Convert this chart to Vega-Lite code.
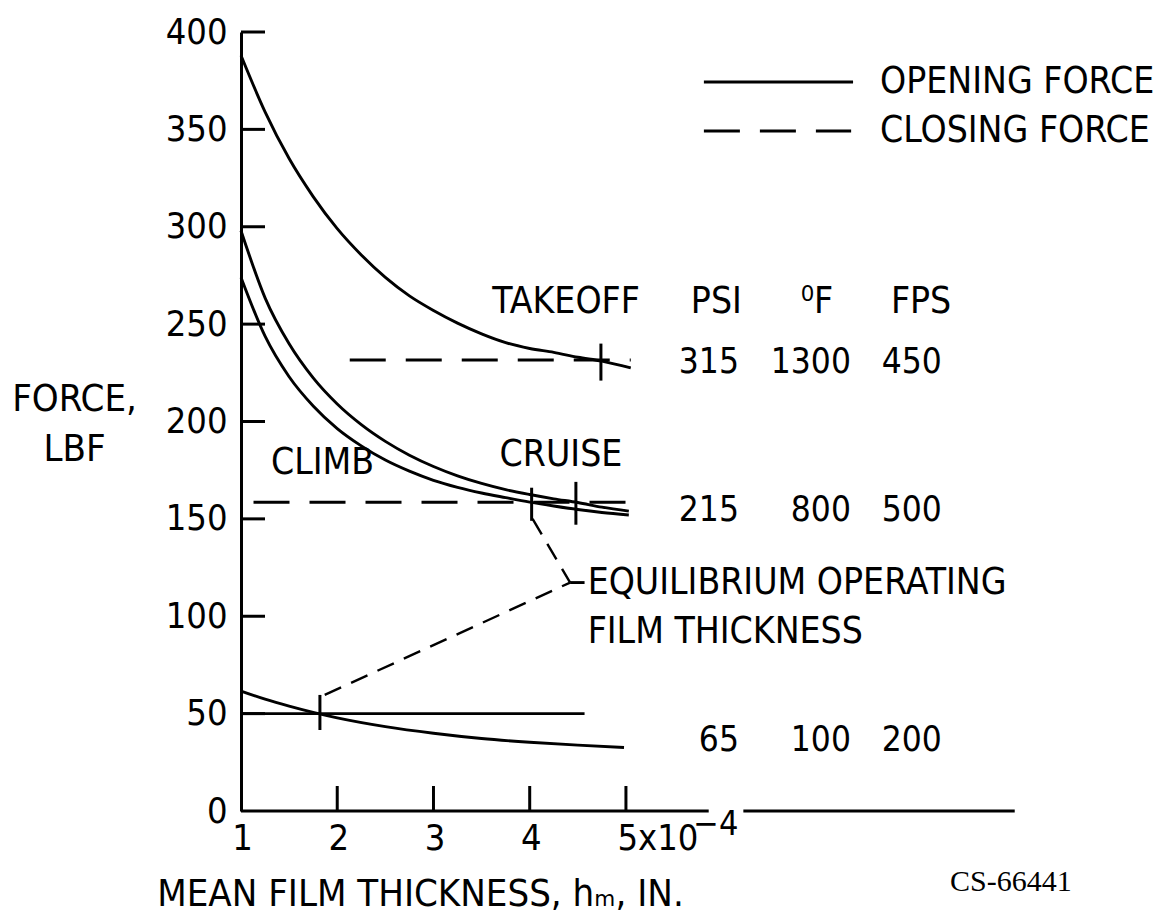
{
  "$schema": "https://vega.github.io/schema/vega-lite/v6.json",
  "width": 818,
  "height": 779,
  "autosize": "none",
  "padding": {"left": 241, "top": 32, "right": 104, "bottom": 112},
  "background": "white",
  "config": {
    "view": {"stroke": null},
    "font": "Liberation Sans Narrow, DejaVu Sans Condensed, sans-serif"
  },
  "datasets": {
    "solid": [
      {"id": "takeoff", "x": 1.0, "y": 388},
      {"id": "takeoff", "x": 1.25, "y": 359},
      {"id": "takeoff", "x": 1.5, "y": 335},
      {"id": "takeoff", "x": 1.75, "y": 315.5},
      {"id": "takeoff", "x": 2.0, "y": 299},
      {"id": "takeoff", "x": 2.25, "y": 285.5},
      {"id": "takeoff", "x": 2.5, "y": 274},
      {"id": "takeoff", "x": 2.75, "y": 264.5},
      {"id": "takeoff", "x": 3.0, "y": 257},
      {"id": "takeoff", "x": 3.25, "y": 250.5},
      {"id": "takeoff", "x": 3.5, "y": 245},
      {"id": "takeoff", "x": 3.75, "y": 240.5},
      {"id": "takeoff", "x": 4.0, "y": 237.5},
      {"id": "takeoff", "x": 4.25, "y": 235.5},
      {"id": "takeoff", "x": 4.5, "y": 233},
      {"id": "takeoff", "x": 4.75, "y": 231},
      {"id": "takeoff", "x": 5.05, "y": 227.5},
      {"id": "cruise", "x": 1.0, "y": 298},
      {"id": "cruise", "x": 1.25, "y": 263.5},
      {"id": "cruise", "x": 1.5, "y": 239.9},
      {"id": "cruise", "x": 1.75, "y": 222.4},
      {"id": "cruise", "x": 2.0, "y": 209},
      {"id": "cruise", "x": 2.25, "y": 198.4},
      {"id": "cruise", "x": 2.5, "y": 189.8},
      {"id": "cruise", "x": 2.75, "y": 182.7},
      {"id": "cruise", "x": 3.0, "y": 176.9},
      {"id": "cruise", "x": 3.25, "y": 172.1},
      {"id": "cruise", "x": 3.5, "y": 168.2},
      {"id": "cruise", "x": 3.75, "y": 165},
      {"id": "cruise", "x": 4.0, "y": 162.5},
      {"id": "cruise", "x": 4.25, "y": 160.3},
      {"id": "cruise", "x": 4.5, "y": 158.4},
      {"id": "cruise", "x": 4.75, "y": 156},
      {"id": "cruise", "x": 5.03, "y": 154},
      {"id": "climb", "x": 1.0, "y": 274},
      {"id": "climb", "x": 1.25, "y": 243.8},
      {"id": "climb", "x": 1.5, "y": 223},
      {"id": "climb", "x": 1.75, "y": 208},
      {"id": "climb", "x": 2.0, "y": 196.4},
      {"id": "climb", "x": 2.25, "y": 187.5},
      {"id": "climb", "x": 2.5, "y": 180.2},
      {"id": "climb", "x": 2.75, "y": 174.5},
      {"id": "climb", "x": 3.0, "y": 169.8},
      {"id": "climb", "x": 3.25, "y": 166.2},
      {"id": "climb", "x": 3.5, "y": 163.3},
      {"id": "climb", "x": 3.75, "y": 160.9},
      {"id": "climb", "x": 4.0, "y": 158.6},
      {"id": "climb", "x": 4.25, "y": 156.6},
      {"id": "climb", "x": 4.5, "y": 154.8},
      {"id": "climb", "x": 4.75, "y": 153.3},
      {"id": "climb", "x": 5.03, "y": 152},
      {"id": "idle", "x": 1.0, "y": 61.6},
      {"id": "idle", "x": 1.25, "y": 57.4},
      {"id": "idle", "x": 1.5, "y": 53.8},
      {"id": "idle", "x": 1.75, "y": 50.6},
      {"id": "idle", "x": 2.0, "y": 47.8},
      {"id": "idle", "x": 2.5, "y": 43.3},
      {"id": "idle", "x": 3.0, "y": 39.9},
      {"id": "idle", "x": 3.5, "y": 37.2},
      {"id": "idle", "x": 4.0, "y": 35.3},
      {"id": "idle", "x": 4.5, "y": 33.8},
      {"id": "idle", "x": 4.98, "y": 32.6},
      {"id": "idleClose", "x": 1.0, "y": 50},
      {"id": "idleClose", "x": 4.57, "y": 50},
      {"id": "leaderJoin", "x": 4.42, "y": 117.3},
      {"id": "leaderJoin", "x": 4.57, "y": 117.3},
      {"id": "legendSolid", "x": 5.81, "y": 374.3},
      {"id": "legendSolid", "x": 7.36, "y": 374.3}
    ],
    "dashed": [
      {"id": "takeoffClose", "x": 2.13, "y": 231.6},
      {"id": "takeoffClose", "x": 5.05, "y": 231.6},
      {"id": "cruiseClose", "x": 1.13, "y": 158.5},
      {"id": "cruiseClose", "x": 5.03, "y": 158.5},
      {"id": "legendDashed", "x": 5.81, "y": 349.2},
      {"id": "legendDashed", "x": 7.34, "y": 349.2}
    ],
    "leaders": [
      {"id": "lead1", "x": 4.03, "y": 150},
      {"id": "lead1", "x": 4.42, "y": 117.3},
      {"id": "lead2", "x": 1.87, "y": 59.6},
      {"id": "lead2", "x": 4.42, "y": 117.3}
    ],
    "eqTicks": [
      {"x": 4.74, "y": 221, "y2": 240},
      {"x": 4.02, "y": 149, "y2": 166},
      {"x": 4.48, "y": 147, "y2": 169},
      {"x": 1.82, "y": 41.6, "y2": 59.6}
    ],
    "yTicks": [
      {"v": 50}, {"v": 100}, {"v": 150}, {"v": 200},
      {"v": 250}, {"v": 300}, {"v": 350}, {"v": 400}
    ],
    "xTicks": [
      {"v": 2}, {"v": 3}, {"v": 4}, {"v": 5}
    ],
    "baseline": [
      {"x": 1, "x2": 5.86, "y": 0},
      {"x": 6.22, "x2": 9.04, "y": 0}
    ],
    "textLeft": [
      {"x": 7.64, "y": 374.3, "t": "OPENING FORCE"},
      {"x": 7.64, "y": 349.2, "t": "CLOSING FORCE"},
      {"x": 7.753, "y": 261.4, "t": "FPS"},
      {"x": 4.602, "y": 117.1, "t": "EQUILIBRIUM OPERATING"},
      {"x": 4.602, "y": 91.9, "t": "FILM THICKNESS"}
    ],
    "textRight": [
      {"x": 5.145, "y": 261.4, "t": "TAKEOFF"},
      {"x": 6.205, "y": 261.4, "t": "PSI"}
    ],
    "numbers": [
      {"x": 6.174, "y": 230.5, "t": "315"},
      {"x": 7.338, "y": 230.5, "t": "1300"},
      {"x": 8.283, "y": 230.5, "t": "450"},
      {"x": 6.174, "y": 154.6, "t": "215"},
      {"x": 7.338, "y": 154.6, "t": "800"},
      {"x": 8.283, "y": 154.6, "t": "500"},
      {"x": 6.174, "y": 36.5, "t": "65"},
      {"x": 7.338, "y": 36.5, "t": "100"},
      {"x": 8.283, "y": 36.5, "t": "200"}
    ],
    "textCenter": [
      {"x": 6.984, "y": 261.4, "t": "⁰F"},
      {"x": 1.847, "y": 178.7, "t": "CLIMB"},
      {"x": 4.325, "y": 182.8, "t": "CRUISE"}
    ],
    "exponent": [
      {"x": 5.7, "y": -7.2, "t": "−4"}
    ],
    "textSerif": [
      {"x": 9.0, "y": -36.5, "t": "CS-66441"}
    ]
  },
  "layer": [
    {
      "data": {"name": "solid"},
      "mark": {"type": "line", "interpolate": "monotone", "color": "black", "strokeWidth": 2.9},
      "encoding": {
        "x": {
          "field": "x", "type": "quantitative",
          "scale": {"domain": [1, 9.5], "nice": false, "zero": false},
          "axis": {
            "values": [1, 2, 3, 4, 5],
            "domain": false,
            "grid": false,
            "ticks": false,
            "labelFontSize": 36,
            "labelColor": "black",
            "labelPadding": 10,
            "labelFlush": false,
            "labelOverlap": false,
            "labelBound": false,
            "labelExpr": "datum.value == 5 ? '5x10' : format(datum.value, 'd')",
            "labelAlign": {"condition": {"test": "datum.value == 5", "value": "left"}, "value": "center"},
            "labelOffset": {"condition": {"test": "datum.value == 5", "value": -9}, "value": 1},
            "title": "MEAN FILM THICKNESS, hₘ, IN.",
            "titleFontSize": 38,
            "titleFontWeight": "normal",
            "titleColor": "black",
            "titleAlign": "center",
            "titleBaseline": "middle",
            "titleX": 179,
            "titleY": 83
          }
        },
        "y": {
          "field": "y", "type": "quantitative",
          "scale": {"domain": [0, 400], "nice": false, "zero": false},
          "axis": {
            "values": [0, 50, 100, 150, 200, 250, 300, 350, 400],
            "domain": true,
            "domainColor": "black",
            "domainWidth": 3,
            "grid": false,
            "ticks": false,
            "labelFontSize": 36,
            "labelColor": "black",
            "labelPadding": 14,
            "labelFlush": false,
            "labelOverlap": false,
            "labelBound": false,
            "title": ["FORCE,", "LBF"],
            "titleFontSize": 38,
            "titleFontWeight": "normal",
            "titleColor": "black",
            "titleAngle": 0,
            "titleAlign": "center",
            "titleBaseline": "middle",
            "titleLineHeight": 50,
            "titleX": -167,
            "titleY": 367
          }
        },
        "detail": {"field": "id"}
      }
    },
    {
      "data": {"name": "yTicks"},
      "mark": {"type": "tick", "orient": "horizontal", "size": 24, "thickness": 3, "xOffset": 12, "color": "black", "opacity": 1},
      "encoding": {
        "x": {"datum": 1, "type": "quantitative"},
        "y": {"field": "v", "type": "quantitative"}
      }
    },
    {
      "data": {"name": "xTicks"},
      "mark": {"type": "tick", "orient": "vertical", "size": 25, "thickness": 3, "yOffset": -12.5, "color": "black", "opacity": 1},
      "encoding": {
        "x": {"field": "v", "type": "quantitative"},
        "y": {"datum": 0, "type": "quantitative"}
      }
    },
    {
      "data": {"name": "dashed"},
      "mark": {"type": "line", "color": "black", "strokeWidth": 2.9, "strokeDash": [36, 20]},
      "encoding": {
        "x": {"field": "x", "type": "quantitative"},
        "y": {"field": "y", "type": "quantitative"},
        "detail": {"field": "id"}
      }
    },
    {
      "data": {"name": "leaders"},
      "mark": {"type": "line", "color": "black", "strokeWidth": 2.4, "strokeDash": [18, 11]},
      "encoding": {
        "x": {"field": "x", "type": "quantitative"},
        "y": {"field": "y", "type": "quantitative"},
        "detail": {"field": "id"}
      }
    },
    {
      "data": {"name": "eqTicks"},
      "mark": {"type": "rule", "color": "black", "strokeWidth": 3},
      "encoding": {
        "x": {"field": "x", "type": "quantitative"},
        "y": {"field": "y", "type": "quantitative"},
        "y2": {"field": "y2"}
      }
    },
    {
      "data": {"name": "baseline"},
      "mark": {"type": "rule", "color": "black", "strokeWidth": 3},
      "encoding": {
        "x": {"field": "x", "type": "quantitative"},
        "x2": {"field": "x2"},
        "y": {"field": "y", "type": "quantitative"}
      }
    },
    {
      "data": {"name": "textLeft"},
      "mark": {"type": "text", "align": "left", "baseline": "middle", "fontSize": 37, "color": "black"},
      "encoding": {
        "x": {"field": "x", "type": "quantitative"},
        "y": {"field": "y", "type": "quantitative"},
        "text": {"field": "t"}
      }
    },
    {
      "data": {"name": "textRight"},
      "mark": {"type": "text", "align": "right", "baseline": "middle", "fontSize": 37, "color": "black"},
      "encoding": {
        "x": {"field": "x", "type": "quantitative"},
        "y": {"field": "y", "type": "quantitative"},
        "text": {"field": "t"}
      }
    },
    {
      "data": {"name": "numbers"},
      "mark": {"type": "text", "align": "right", "baseline": "middle", "fontSize": 35, "color": "black"},
      "encoding": {
        "x": {"field": "x", "type": "quantitative"},
        "y": {"field": "y", "type": "quantitative"},
        "text": {"field": "t"}
      }
    },
    {
      "data": {"name": "textCenter"},
      "mark": {"type": "text", "align": "center", "baseline": "middle", "fontSize": 37, "color": "black"},
      "encoding": {
        "x": {"field": "x", "type": "quantitative"},
        "y": {"field": "y", "type": "quantitative"},
        "text": {"field": "t"}
      }
    },
    {
      "data": {"name": "exponent"},
      "mark": {"type": "text", "align": "left", "baseline": "middle", "fontSize": 34, "color": "black"},
      "encoding": {
        "x": {"field": "x", "type": "quantitative"},
        "y": {"field": "y", "type": "quantitative"},
        "text": {"field": "t"}
      }
    },
    {
      "data": {"name": "textSerif"},
      "mark": {"type": "text", "align": "center", "baseline": "middle", "fontSize": 30, "color": "black", "font": "Liberation Serif, DejaVu Serif, serif"},
      "encoding": {
        "x": {"field": "x", "type": "quantitative"},
        "y": {"field": "y", "type": "quantitative"},
        "text": {"field": "t"}
      }
    }
  ]
}
